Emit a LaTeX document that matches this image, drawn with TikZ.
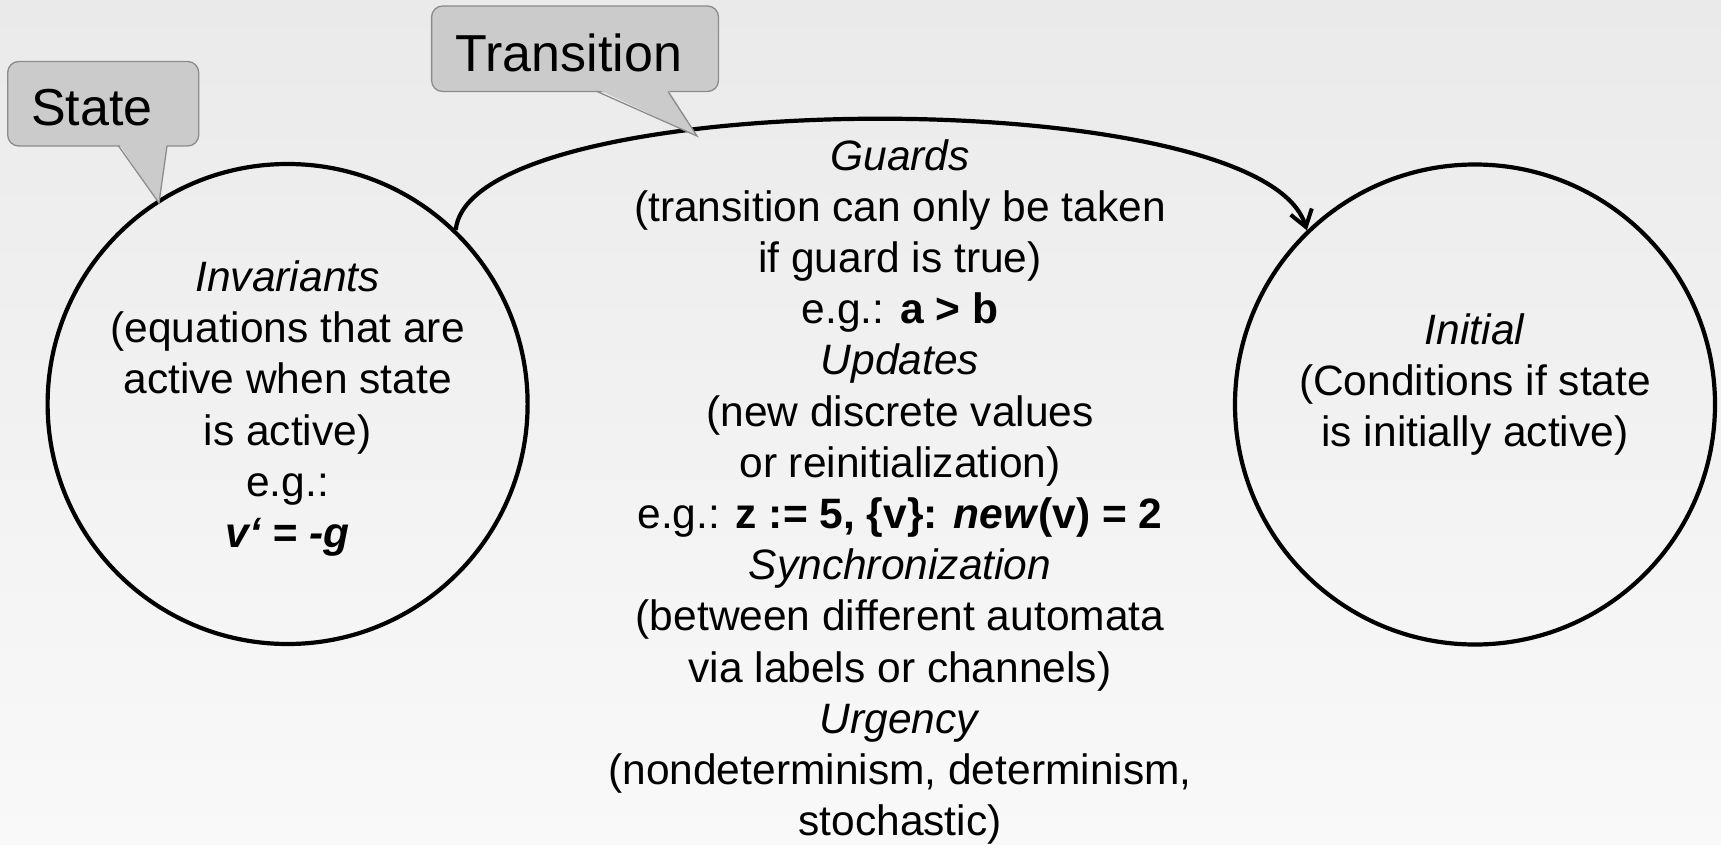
\documentclass[tikz,border=0pt]{standalone}
\usepackage{fontspec}
\setmainfont{Liberation Sans}
\usetikzlibrary{arrows.meta}
\definecolor{bgtop}{HTML}{EAEAEA}
\definecolor{bgbot}{HTML}{F9F9F9}
\definecolor{calloutfill}{HTML}{CBCBCB}
\definecolor{calloutline}{HTML}{8C8C8C}
\begin{document}
\begin{tikzpicture}[x=1pt,y=-1pt,
  body/.style={font=\fontsize{42.5}{51.2}\selectfont, align=center, inner sep=0pt, anchor=north},
  statecircle/.style={circle, draw=black, line width=4.2pt, minimum size=480pt, inner sep=0pt},
  calloutbox/.style={draw=calloutline, fill=calloutfill, line width=1.3pt, rounded corners=11pt},
  calltext/.style={font=\fontsize{52}{60}\selectfont, inner sep=0pt},
  transarrow/.style={line width=4.2pt, -{Straight Barb[length=16pt,width=22pt,line width=4pt]}}
]
\useasboundingbox (0,0) rectangle (1721,845);
\shade[top color=bgtop, bottom color=bgbot] (0,0) rectangle (1721,845);

% state circles
\node[statecircle] (L) at (287.6,404) {};
\node[statecircle] (R) at (1475,404.5) {};

% transition
\draw[transarrow] (L.46) .. controls (470,85) and (1262,80) .. (R.134.6);

% callout State
\draw[calloutbox] (7.7,61.5) rectangle (198.7,146);
\fill[calloutfill] (118.5,143.5) -- (159,203) -- (167,143.5) -- cycle;
\draw[calloutline, line width=1.3pt, line join=miter] (118.5,146) -- (159,203) -- (167,146);
\node[calltext] (statelbl) at (92,108) {State};

% callout Transition
\draw[calloutbox] (431.6,6) rectangle (718.5,91.5);
\fill[calloutfill] (597,89) -- (697,136) -- (668,89) -- cycle;
\draw[calloutline, line width=1.3pt, line join=miter] (597,91.5) -- (697,136) -- (668,91.5);
\node[calltext] (translbl) at (569,53) {Transition};

% texts
\node[body] (ltext) at (287.6,260.5) {\textit{Invariants}\\(equations that are\\active when state\\is active)\\e.g.:\\\textbf{\textit{v‘ = -g}}};
\node[body] (rtext) at (1475,313.6) {\textit{Initial}\\(Conditions if state\\is initially active)};
\node[body] (ttext) at (900,139) {\textit{Guards}\\(transition can only be taken\\if guard is true)\\e.g.: \textbf{a > b}\\\textit{Updates}\\(new discrete values\\or reinitialization)\\e.g.: \textbf{z := 5, \{v\}:} \textbf{\textit{new}}\textbf{(v) = 2}\\\textit{Synchronization}\\(between different automata\\via labels or channels)\\\textit{Urgency}\\(nondeterminism, determinism,\\stochastic)};
\end{tikzpicture}
\end{document}
